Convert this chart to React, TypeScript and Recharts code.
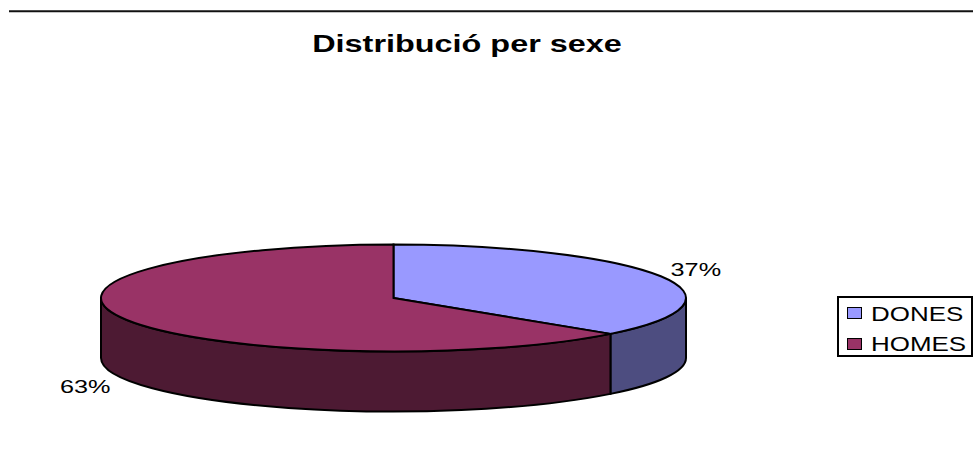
import React from "react";
import { PieChart, Pie, Cell, Legend } from "recharts";

const categories = ["DONES", "HOMES"];
const values = [36.7, 63.3];
const topColors = ["#9999FF", "#993366"];
const wallColors = ["#4D4D80", "#4D1A33"];

const data = categories.map((name, i) => ({ name, value: values[i] }));

const WIDTH = 973;
const HEIGHT = 450;
const SQUASH = 53.5 / 292.5; // tilt of the disc
const DEPTH = 60;
const TEXT_STRETCH = 1.33; // the picture's text is wider than tall
const OUTLINE = 2;

const point = (cx: number, cy: number, r: number, deg: number) => {
  const a = (deg * Math.PI) / 180;
  return { x: cx + r * Math.cos(a), y: cy - r * SQUASH * Math.sin(a) };
};

function DiscSlice(props: any) {
  const { cx, cy, outerRadius: r, startAngle, endAngle, index } = props;
  const rise = r * SQUASH;
  const s = point(cx, cy, r, startAngle);
  const e = point(cx, cy, r, endAngle);
  const large = Math.abs(startAngle - endAngle) > 180 ? 1 : 0;
  const top = `M${cx},${cy} L${s.x},${s.y} A${r},${rise} 0 ${large} 1 ${e.x},${e.y} Z`;

  // only the lower half of the rim can be seen
  const lo = Math.max(endAngle, -180);
  const hi = Math.min(startAngle, 0);
  let wall = null;
  if (hi > lo) {
    const a = point(cx, cy, r, hi);
    const b = point(cx, cy, r, lo);
    wall = (
      <path
        d={`M${a.x},${a.y} A${r},${rise} 0 0 1 ${b.x},${b.y} L${b.x},${b.y + DEPTH} A${r},${rise} 0 0 0 ${a.x},${a.y + DEPTH} Z`}
        fill={wallColors[index]}
        stroke="#000"
        strokeWidth={OUTLINE}
      />
    );
  }
  return (
    <g>
      {wall}
      <path d={top} fill={topColors[index]} stroke="#000" strokeWidth={OUTLINE} />
    </g>
  );
}

function SliceLabel(props: any) {
  const { cx, cy, outerRadius: r, midAngle, percent } = props;
  const p = point(cx, cy, r, midAngle);
  const right = Math.cos((midAngle * Math.PI) / 180) > 0;
  const upper = Math.sin((midAngle * Math.PI) / 180) > 0;
  const x = p.x + (right ? 35 : -41);
  const y = p.y + (upper ? -7 : DEPTH + 7);
  return (
    <text
      x={0}
      y={0}
      transform={`translate(${x},${y}) scale(${TEXT_STRETCH},1)`}
      textAnchor="middle"
      dominantBaseline="central"
      fontFamily="Liberation Sans"
      fontSize={19}
      fill="#000"
    >
      {`${Math.round(percent * 100)}%`}
    </text>
  );
}

function LegendBox({ payload }: any) {
  return (
    <div
      style={{
        position: "relative",
        width: 136,
        height: 61,
        boxSizing: "border-box",
        border: "2px solid #000",
        background: "#fff",
      }}
    >
      {(payload || []).map((item: any, i: number) => (
        <div key={item.value}>
          <div
            style={{
              position: "absolute",
              left: 8,
              top: 9 + i * 30.5,
              width: 13,
              height: 10,
              border: "1.5px solid #000",
              background: topColors[i],
            }}
          />
          <span
            style={{
              position: "absolute",
              left: 32,
              top: 4.5 + i * 30,
              fontFamily: "Liberation Sans",
              fontSize: 19.5,
              lineHeight: "22px",
              transform: `scaleX(${TEXT_STRETCH})`,
              transformOrigin: "left center",
              color: "#000",
            }}
          >
            {item.value}
          </span>
        </div>
      ))}
    </div>
  );
}

export default function App() {
  return (
    <div style={{ position: "absolute", left: 0, top: 0 }}>
      <PieChart
        width={WIDTH}
        height={HEIGHT}
        margin={{ top: 0, right: 0, bottom: 0, left: 0 }}
      >
        <line x1={9} x2={973} y1={11.3} y2={11.3} stroke="#111" strokeWidth={2} />
        <text
          x={0}
          y={0}
          transform="translate(467,52) scale(1.35,1)"
          textAnchor="middle"
          fontFamily="Liberation Sans"
          fontSize={24}
          fontWeight="bold"
          fill="#000"
        >
          Distribució per sexe
        </text>
        <Pie
          data={data}
          dataKey="value"
          nameKey="name"
          cx={393.5}
          cy={298}
          outerRadius={292.5}
          startAngle={90}
          endAngle={-270}
          paddingAngle={0}
          shape={DiscSlice}
          label={SliceLabel}
          labelLine={false}
          isAnimationActive={false}
        >
          {categories.map((c, i) => (
            <Cell key={c} fill={topColors[i]} />
          ))}
        </Pie>
        <Legend
          content={LegendBox}
          wrapperStyle={{ left: 837, top: 296, width: 136, height: 61 }}
        />
      </PieChart>
    </div>
  );
}
